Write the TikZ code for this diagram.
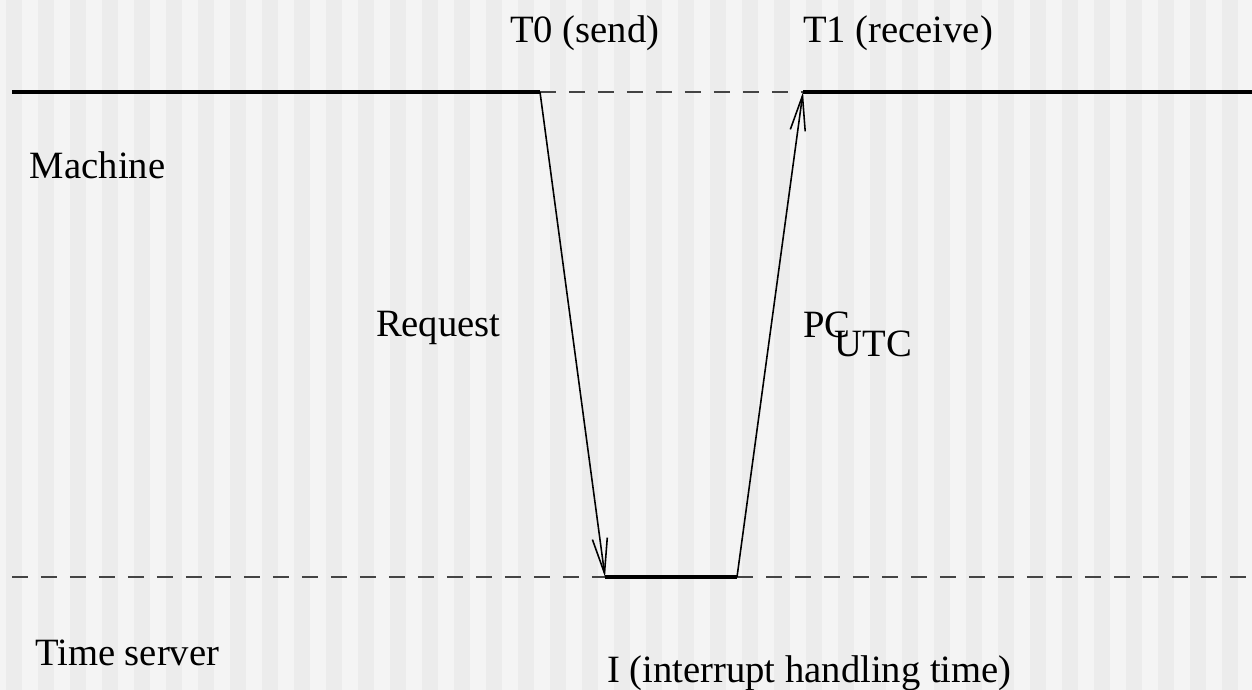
\documentclass[tikz,border=0pt]{standalone}
\usepackage{fontspec}
\setmainfont{Liberation Serif}
\usetikzlibrary{arrows.meta}

\definecolor{stripelight}{HTML}{F4F4F4}
\definecolor{stripedark}{HTML}{ECECEC}
\definecolor{dashgray}{HTML}{444444}

\begin{document}
\begin{tikzpicture}[
	x=0.02cm, y=-0.02cm,
	font=\fontsize{22}{26}\selectfont,
	lbl/.style={
		anchor=base west,
		inner sep=0pt,
		outer sep=0pt,
	},
	timeline/.style={line width=2.2pt},
	idle/.style={line width=1.1pt, dashgray, dash pattern=on 0.32cm off 0.26cm},
	msg/.style={-{Straight Barb[length=7mm, width=3mm]}, line width=0.9pt},
]

% striped background
\fill[stripelight] (0,0) rectangle (1252,690);
\foreach \i in {0,...,38}
	\fill[stripedark] ({6+32*\i},0) rectangle +(16,690);
\useasboundingbox (0,0) rectangle (1252,690);

% time lines
\coordinate (mstart) at (12,92);
\coordinate (send) at (540,92);
\coordinate (recv) at (803,92);
\coordinate (mend) at (1252,92);
\coordinate (sstart) at (12,577);
\coordinate (irqin) at (605,577);
\coordinate (irqout) at (737,577);
\coordinate (send2) at (1252,577);

\draw[idle] (send) -- (recv);
\draw[idle] (sstart) -- (irqin);
\draw[idle] (irqout) -- (send2);
\draw[timeline] (mstart) -- (send);
\draw[timeline] (recv) -- (mend);
\draw[timeline] (irqin) -- (irqout);

% messages
\draw[msg] (send) -- (irqin);
\draw[msg] (irqout) -- (recv);

% labels
\node[lbl] (tzero) at (510,42) {T0 (send)};
\node[lbl] (tone) at (803,42) {T1 (receive)};
\node[lbl] (machine) at (30,178) {Machine};
\node[lbl] (request) at (376,336) {Request};
\node[lbl] (pcutc) at (803,337) {PC\kern-0.4em\raisebox{-0.5em}{UTC}};
\node[lbl] (server) at (35,665) {Time server};
\node[lbl] (irq) at (607,682) {I (interrupt handling time)};

\end{tikzpicture}
\end{document}
